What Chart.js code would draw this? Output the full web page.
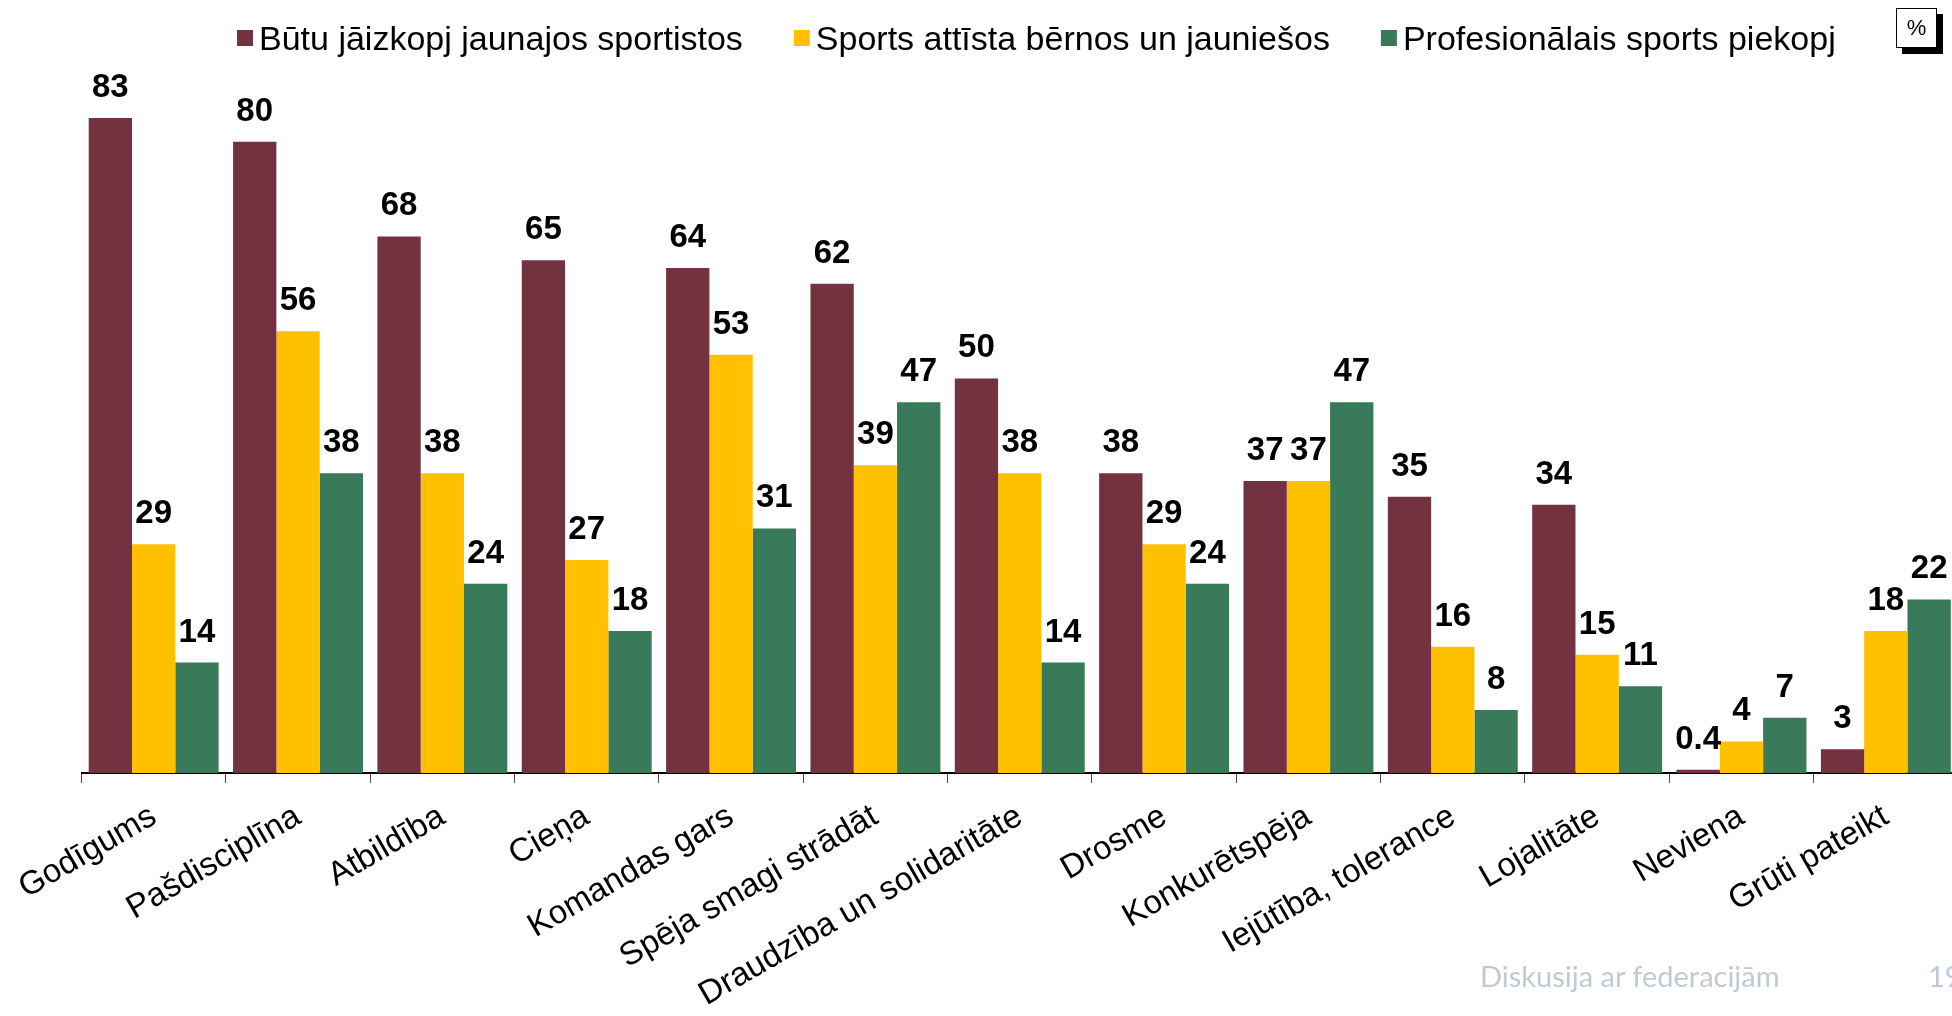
<!DOCTYPE html>
<html>
<head>
<meta charset="utf-8">
<script src="https://cdn.jsdelivr.net/npm/chart.js@4.4.1/dist/chart.umd.min.js"></script>
<style>
  html, body { margin: 0; padding: 0; background: #fff; overflow: hidden; }
  #wrap { position: absolute; left: 0; top: 0; width: 1960px; height: 1016px; }
  .pct {
    position: absolute; left: 1896px; top: 8px; width: 39px; height: 38px;
    background: #fff; border: 1.5px solid #000; box-shadow: 6px 6px 0 #000;
    font: 22px Arial, sans-serif; text-align: center; line-height: 38px;
  }
  .footer {
    position: absolute; top: 958px; left: 1480px;
    font: 29px Lato, "Open Sans", sans-serif; color: #bfcad6; white-space: nowrap;
  }
  .page { position: absolute; top: 958px; left: 1928px; font: 29px Lato, sans-serif; color: #bfcad6; }
</style>
</head>
<body>
<div id="wrap"><canvas id="chart"></canvas></div>
<div class="pct">%</div>
<div class="footer">Diskusija ar federacijām</div>
<div class="page">19</div>
<script>
const categories = [
  'Godīgums', 'Pašdisciplīna', 'Atbildība', 'Cieņa', 'Komandas gars',
  'Spēja smagi strādāt', 'Draudzība un solidaritāte', 'Drosme', 'Konkurētspēja',
  'Iejūtība, tolerance', 'Lojalitāte', 'Neviena', 'Grūti pateikt'
];
const seriesNames = [
  'Būtu jāizkopj jaunajos sportistos',
  'Sports attīsta bērnos un jauniešos',
  'Profesionālais sports piekopj'
];
const shouldDevelop = [83, 80, 68, 65, 64, 62, 50, 38, 37, 35, 34, 0.4, 3];
const sportDevelops = [29, 56, 38, 27, 53, 39, 38, 29, 37, 16, 15, 4, 18];
const proSportHas = [14, 38, 24, 18, 31, 47, 14, 24, 47, 8, 11, 7, 22];
const colors = ['#73323f', '#ffc000', '#387a5a'];

// value labels above each bar
const valueLabels = {
  id: 'valueLabels',
  afterDatasetsDraw(chart) {
    const { ctx } = chart;
    ctx.save();
    ctx.font = 'bold 33px Arial, "Liberation Sans", sans-serif';
    ctx.fillStyle = '#000';
    ctx.textAlign = 'center';
    ctx.textBaseline = 'alphabetic';
    chart.data.datasets.forEach((ds, i) => {
      chart.getDatasetMeta(i).data.forEach((bar, j) => {
        const v = ds.data[j];
        ctx.fillText(Number.isInteger(v) ? String(v) : v.toFixed(1), bar.x, bar.y - 21);
      });
    });
    ctx.restore();
  }
};

// legend along the top, tighter than the built-in one
const topLegend = {
  id: 'topLegend',
  afterDraw(chart) {
    const { ctx } = chart;
    ctx.save();
    ctx.font = '34px Arial, "Liberation Sans", sans-serif';
    ctx.textBaseline = 'alphabetic';
    let x = 237;
    chart.data.datasets.forEach((ds) => {
      ctx.fillStyle = ds.backgroundColor;
      ctx.fillRect(x, 30, 16, 16);
      ctx.fillStyle = '#000';
      ctx.fillText(ds.label, x + 22, 50);
      x += 22 + ctx.measureText(ds.label).width + 51;
    });
    ctx.restore();
  }
};

new Chart(document.getElementById('chart'), {
  type: 'bar',
  data: {
    labels: categories,
    datasets: [shouldDevelop, sportDevelops, proSportHas].map((d, i) => ({
      label: seriesNames[i],
      data: d,
      backgroundColor: colors[i],
      borderWidth: 0,
      barPercentage: 1.0,
      categoryPercentage: 0.9
    }))
  },
  options: {
    responsive: true,
    maintainAspectRatio: false,
    animation: false,
    layout: { padding: { left: 81.5, right: 2, top: 55, bottom: 0 } },
    scales: {
      x: {
        border: { display: true, color: '#000', width: 2 },
        grid: { display: true, drawOnChartArea: false, tickLength: 10, color: '#444', lineWidth: 1 },
        ticks: {
          color: '#000',
          font: { family: 'Arial, "Liberation Sans", sans-serif', size: 33 },
          maxRotation: 30,
          minRotation: 30,
          autoSkip: false,
          padding: 14
        },
        afterFit(scale) {
          scale.paddingLeft = 0;
          scale.paddingRight = 0;
          scale.height = 1016 - 773;
        }
      },
      y: {
        display: false,
        min: 0,
        max: 91
      }
    },
    plugins: {
      legend: { display: false },
      tooltip: { enabled: false }
    }
  },
  plugins: [valueLabels, topLegend]
});
</script>
</body>
</html>
